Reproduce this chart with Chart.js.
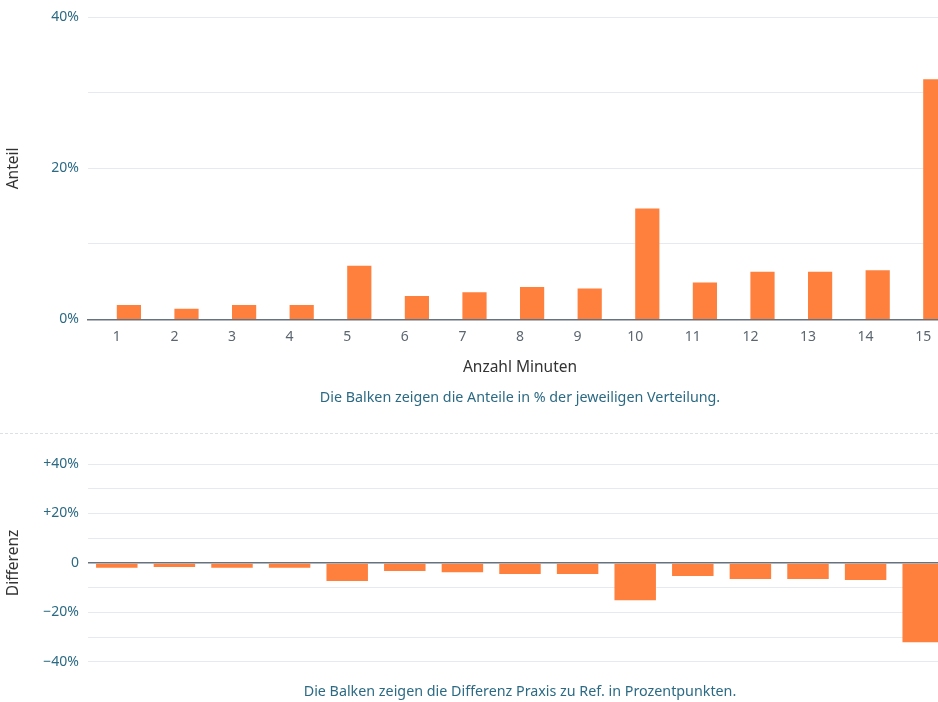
<!DOCTYPE html>
<html>
<head>
<meta charset="utf-8">
<script src="https://cdn.jsdelivr.net/npm/chart.js@4"></script>
<style>
  html, body { margin: 0; padding: 0; overflow: hidden; background: #fff; }
  body { width: 938px; height: 702px; position: relative; }
  #top { position: absolute; left: 0; top: 0; width: 952px; height: 407px; }
  #sep { position: absolute; left: 0; top: 433px; width: 938px; border-top: 1.5px dashed #dde1e6; }
  #bottom { position: absolute; left: 0; top: 442px; width: 952px; height: 259px; }
</style>
</head>
<body>
<div id="top"><canvas id="shareChart"></canvas></div>
<div id="sep"></div>
<div id="bottom"><canvas id="diffChart"></canvas></div>
<script>
const minutes = ["1", "2", "3", "4", "5", "6", "7", "8", "9", "10", "11", "12", "13", "14", "15"];
const refShare = [null, null, null, null, null, null, null, null, null, null, null, null, null, null, null];
const praxisShare = [1.9, 1.4, 1.9, 1.9, 7.1, 3.1, 3.6, 4.3, 4.1, 14.7, 4.9, 6.3, 6.3, 6.5, 31.8];
const difference = [-2.0, -1.6, -2.0, -2.0, -7.3, -3.3, -3.8, -4.5, -4.5, -15.1, -5.3, -6.5, -6.5, -6.9, -32.1];
const shareTicks = [0, 20, 40];
const diffTicks = [-40, -20, 0, 20, 40];

const orange = "#ff7f3c";
const teal = "#2c6a84";
const gridColor = "#e6e9ed";
const axisColor = "#66727e";

Chart.defaults.font.family = "'Noto Sans', 'Open Sans', sans-serif";
Chart.defaults.animation = false;

const fixedLeft = (scale) => { scale.width = 88; };

new Chart(document.getElementById("shareChart"), {
  type: "bar",
  data: {
    labels: minutes,
    datasets: [
      { label: "Ref.", data: refShare, backgroundColor: "transparent" },
      { label: "Praxis", data: praxisShare, backgroundColor: orange },
    ],
  },
  options: {
    responsive: true,
    maintainAspectRatio: false,
    datasets: { bar: { barPercentage: 1, categoryPercentage: 0.84 } },
    layout: { padding: { top: 8, right: 0, left: 0, bottom: 0 } },
    scales: {
      x: {
        grid: { display: false },
        border: { color: axisColor, width: 1.5 },
        ticks: { color: "#5b6670", font: { size: 14 }, padding: 1 },
        title: { display: true, text: "Anzahl Minuten", color: "#333", font: { size: 15.5 }, padding: { top: 12 } },
      },
      y: {
        min: 0,
        max: 40,
        afterFit: fixedLeft,
        grid: { color: gridColor, drawTicks: false },
        border: { display: false },
        ticks: {
          stepSize: 10,
          padding: 9,
          color: teal,
          font: { size: 14 },
          callback: (v) => (shareTicks.includes(v) ? v + "%" : ""),
        },
        title: { display: true, text: "Anteil", color: "#333", font: { size: 15.5 } },
      },
    },
    plugins: {
      legend: { display: false },
      tooltip: { enabled: false },
      title: {
        display: true,
        position: "bottom",
        fullSize: false,
        text: "Die Balken zeigen die Anteile in % der jeweiligen Verteilung.",
        color: teal,
        font: { size: 14.3, weight: "normal" },
        padding: { top: 9, bottom: 0 },
      },
    },
  },
});

new Chart(document.getElementById("diffChart"), {
  type: "bar",
  data: {
    labels: minutes,
    datasets: [{ label: "Differenz", data: difference, backgroundColor: orange }],
  },
  options: {
    responsive: true,
    maintainAspectRatio: false,
    layout: { padding: { top: 22, right: 0, left: 0, bottom: 0 } },
    scales: {
      x: { display: false },
      y: {
        min: -40,
        max: 40,
        afterFit: fixedLeft,
        grid: {
          drawTicks: false,
          color: (ctx) => (ctx.tick && ctx.tick.value === 0 ? axisColor : gridColor),
          lineWidth: (ctx) => (ctx.tick && ctx.tick.value === 0 ? 1.5 : 1),
        },
        border: { display: false },
        ticks: {
          stepSize: 10,
          padding: 9,
          color: teal,
          font: { size: 14 },
          callback: (v) => {
            if (!diffTicks.includes(v)) return "";
            if (v === 0) return "0";
            return (v > 0 ? "+" : "\u2212") + Math.abs(v) + "%";
          },
        },
        title: { display: true, text: "Differenz", color: "#333", font: { size: 15.5 } },
      },
    },
    plugins: {
      legend: { display: false },
      tooltip: { enabled: false },
      title: {
        display: true,
        position: "bottom",
        fullSize: false,
        text: "Die Balken zeigen die Differenz Praxis zu Ref. in Prozentpunkten.",
        color: teal,
        font: { size: 14.3, weight: "normal" },
        padding: { top: 22, bottom: 0 },
      },
    },
  },
});
</script>
</body>
</html>
